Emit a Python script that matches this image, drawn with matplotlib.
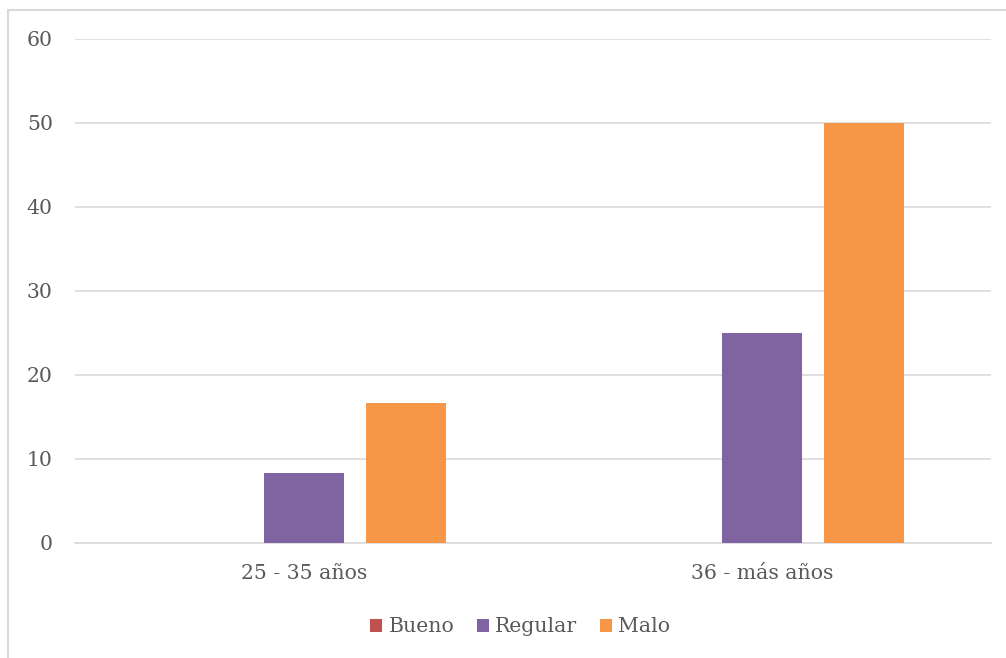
import numpy as np
import matplotlib.pyplot as plt
from matplotlib.patches import Rectangle

categories = ['25 - 35 años', '36 - más años']
series = ['Bueno', 'Regular', 'Malo']
bueno = [0, 0]
regular = [8.33, 25]
malo = [16.67, 50]
colors = ['#C0504D', '#8064A2', '#F79646']

plt.rcParams['font.family'] = ['DejaVu Serif']
txt = '#595959'
grid_c = '#D9D9D9'

fig = plt.figure(figsize=(10.06, 6.58), dpi=100)
ax = fig.add_axes([75/1006, 115/658, 916/1006, 504/658])

x = np.arange(len(categories))
w = 0.1747
step = 0.2227
for i, (name, vals) in enumerate(zip(series, [bueno, regular, malo])):
    ax.bar(x + (i - 1)*step, vals, width=w, color=colors[i], label=name, zorder=3)

ax.set_xlim(-0.5, 1.5)
ax.set_ylim(0, 60)
ax.set_yticks(range(0, 61, 10))
ax.set_xticks(x)
ax.set_xticklabels(categories)
ax.yaxis.grid(True, color=grid_c, linewidth=1.2, zorder=0)
for s in ['top', 'right', 'left']:
    ax.spines[s].set_visible(False)
ax.spines['bottom'].set_color(grid_c)
ax.spines['bottom'].set_linewidth(1.2)
ax.tick_params(axis='both', length=0, colors=txt, labelsize=14.7)
ax.tick_params(axis='y', pad=16)
ax.tick_params(axis='x', pad=15)

leg = fig.legend(loc='center', bbox_to_anchor=(520/1006, 1 - 627/658), ncol=3,
                 frameon=False, fontsize=14.7, handlelength=0.6, handleheight=0.6,
                 handletextpad=0.3, columnspacing=1.1)
for t in leg.get_texts():
    t.set_color(txt)

fig.patches.append(Rectangle((8/1006, -0.1), 1.2, 1.1 - 10/658, transform=fig.transFigure,
                             fill=False, edgecolor=grid_c, linewidth=1.5))

fig.savefig('out.png', dpi=100)
